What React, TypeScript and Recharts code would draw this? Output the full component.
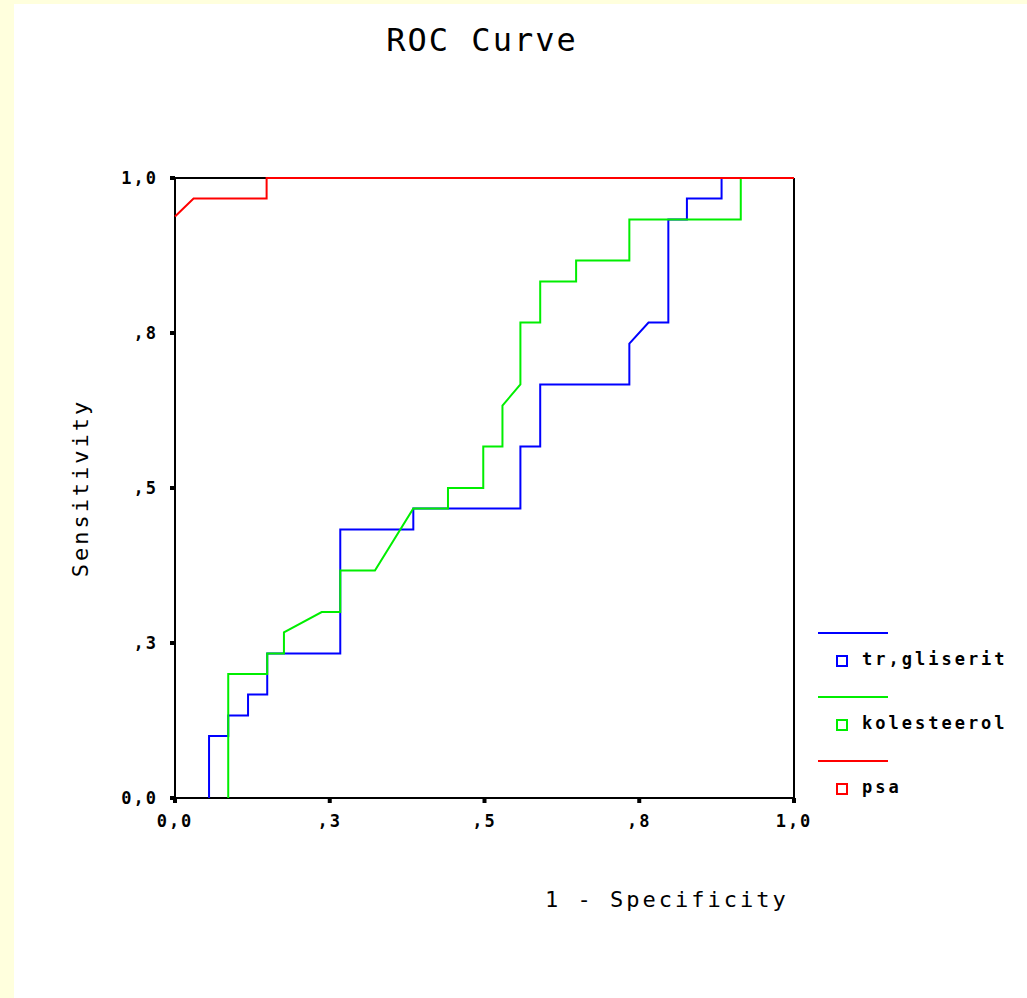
import React from "react";
import {
  LineChart,
  Line,
  XAxis,
  YAxis,
  ReferenceLine,
} from "recharts";

const TICKS = [0, 0.25, 0.5, 0.75, 1];
const X_TICK_LABELS = ["0,0", ",3", ",5", ",8", "1,0"];
const Y_TICK_LABELS = ["0,0", ",3", ",5", ",8", "1,0"];

const TRIGLISERIT_X = [0.055, 0.055, 0.086, 0.086, 0.118, 0.118, 0.149, 0.149, 0.267, 0.267, 0.385, 0.385, 0.558, 0.558, 0.59, 0.59, 0.734, 0.734, 0.765, 0.797, 0.797, 0.827, 0.827, 0.883, 0.883, 1];
const TRIGLISERIT_Y = [0, 0.1, 0.1, 0.133, 0.133, 0.167, 0.167, 0.233, 0.233, 0.433, 0.433, 0.467, 0.467, 0.567, 0.567, 0.667, 0.667, 0.733, 0.767, 0.767, 0.933, 0.933, 0.967, 0.967, 1, 1];

const KOLESTEEROL_X = [0.086, 0.086, 0.149, 0.149, 0.176, 0.176, 0.237, 0.267, 0.267, 0.323, 0.385, 0.441, 0.441, 0.498, 0.498, 0.529, 0.529, 0.558, 0.558, 0.59, 0.59, 0.648, 0.648, 0.734, 0.734, 0.914, 0.914, 1];
const KOLESTEEROL_Y = [0, 0.2, 0.2, 0.233, 0.233, 0.267, 0.3, 0.3, 0.367, 0.367, 0.467, 0.467, 0.5, 0.5, 0.567, 0.567, 0.633, 0.667, 0.767, 0.767, 0.833, 0.833, 0.867, 0.867, 0.933, 0.933, 1, 1];

const PSA_X = [0, 0.03, 0.148, 0.148, 1];
const PSA_Y = [0.938, 0.967, 0.967, 1, 1];

const SERIES = [
  { name: "tr,gliserit", color: "#0000FF", xs: TRIGLISERIT_X, ys: TRIGLISERIT_Y },
  { name: "kolesteerol", color: "#00EE00", xs: KOLESTEEROL_X, ys: KOLESTEEROL_Y },
  { name: "psa", color: "#FF0000", xs: PSA_X, ys: PSA_Y },
];

const FONT = "'DejaVu Sans Mono', monospace";

function toPoints(xs: number[], ys: number[]) {
  return xs.map((x, i) => ({ x, y: ys[i] }));
}

function LegendBox() {
  return (
    <div style={{ position: "absolute", left: 818, top: 632, width: 209, fontFamily: FONT }}>
      {SERIES.map((s) => (
        <div key={s.name} style={{ height: 64, position: "relative" }}>
          <div style={{ position: "absolute", left: 0, top: 0, width: 70, height: 2, background: s.color }} />
          <div
            style={{
              position: "absolute",
              left: 18,
              top: 23,
              width: 8,
              height: 8,
              border: `2px solid ${s.color}`,
            }}
          />
          <div
            style={{
              position: "absolute",
              left: 44,
              top: 17,
              fontSize: 17,
              fontWeight: 600,
              letterSpacing: 3,
              color: "#000",
              whiteSpace: "nowrap",
            }}
          >
            {s.name}
          </div>
        </div>
      ))}
    </div>
  );
}

export default function App() {
  return (
    <div
      style={{
        position: "absolute",
        left: 0,
        top: 0,
        width: 1027,
        height: 998,
        background: "#FFFFDD",
        overflow: "hidden",
      }}
    >
      <div style={{ position: "absolute", left: 14, top: 4, width: 1013, height: 994, background: "#FFFFFF" }} />
      <div
        style={{
          position: "absolute",
          left: 0,
          top: 21,
          width: 964,
          textAlign: "center",
          fontFamily: FONT,
          fontSize: 32,
          letterSpacing: 2,
          color: "#000",
        }}
      >
        ROC Curve
      </div>
      <div style={{ position: "absolute", left: 0, top: 0 }}>
        <LineChart
          width={1027}
          height={998}
          margin={{ top: 178, right: 233, bottom: 160, left: 115 }}
        >
          <XAxis
            dataKey="x"
            type="number"
            domain={[0, 1]}
            ticks={TICKS}
            tickFormatter={(v: number, i: number) => X_TICK_LABELS[i]}
            height={40}
            tickSize={5}
            tickMargin={12}
            axisLine={{ stroke: "#000", strokeWidth: 2 }}
            tickLine={{ stroke: "#000", strokeWidth: 4 }}
            tick={{ fill: "#000", fontSize: 17, fontWeight: 600, fontFamily: FONT, letterSpacing: 2 }}
            allowDuplicatedCategory={false}
          />
          <YAxis
            dataKey="y"
            type="number"
            domain={[0, 1]}
            ticks={TICKS}
            tickFormatter={(v: number, i: number) => Y_TICK_LABELS[i]}
            width={60}
            tickSize={5}
            tickMargin={12}
            axisLine={{ stroke: "#000", strokeWidth: 2 }}
            tickLine={{ stroke: "#000", strokeWidth: 4 }}
            tick={{ fill: "#000", fontSize: 17, fontWeight: 600, fontFamily: FONT, letterSpacing: 2 }}
          />
          <ReferenceLine y={1} stroke="#000" strokeWidth={2} />
          <ReferenceLine x={1} stroke="#000" strokeWidth={2} />
          {SERIES.map((s) => (
            <Line
              key={s.name}
              data={toPoints(s.xs, s.ys)}
              dataKey="y"
              name={s.name}
              type="linear"
              stroke={s.color}
              strokeWidth={2}
              dot={false}
              activeDot={false}
              isAnimationActive={false}
              zIndex={600}
            />
          ))}
        </LineChart>
      </div>
      <LegendBox />
      <div
        style={{
          position: "absolute",
          left: 545,
          top: 887,
          fontFamily: FONT,
          fontSize: 22,
          letterSpacing: 3,
          color: "#000",
          whiteSpace: "nowrap",
        }}
      >
        1 - Specificity
      </div>
      <div
        style={{
          position: "absolute",
          left: 80,
          top: 488,
          transform: "translate(-50%, -50%) rotate(-90deg)",
          fontFamily: FONT,
          fontSize: 22,
          letterSpacing: 3,
          color: "#000",
          whiteSpace: "nowrap",
        }}
      >
        Sensitivity
      </div>
    </div>
  );
}
